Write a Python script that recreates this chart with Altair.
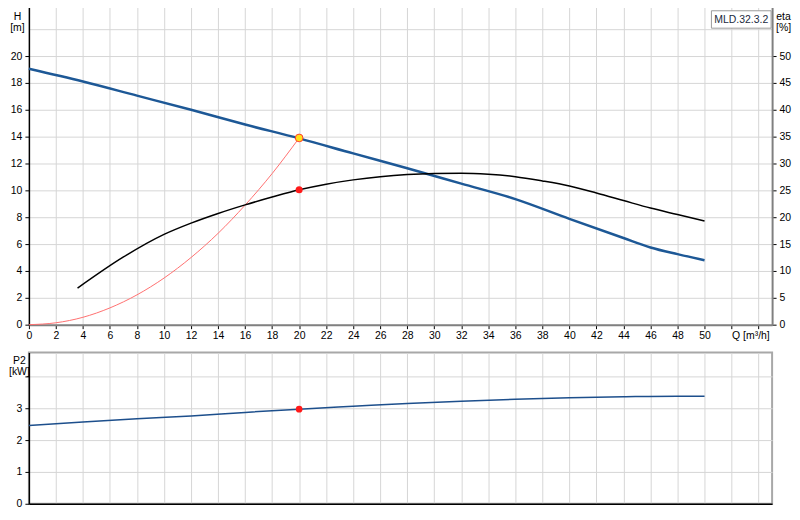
import altair as alt
import pandas as pd

# ---- data ----
q_head = [0, 4, 8, 12, 16, 20, 24, 28, 32, 36, 40, 44, 46, 48, 50]
head = [19.05, 18.1, 17.05, 16.0, 14.9, 13.87, 12.75, 11.65, 10.5, 9.35, 7.88, 6.45, 5.75, 5.25, 4.8]

q_sys = [0, 2, 4, 6, 8, 10, 12, 14, 16, 18, 20]
h_sys = [0, 0.14, 0.55, 1.25, 2.22, 3.47, 5.0, 6.8, 8.9, 11.25, 13.9]

q_eta = [3.6, 7, 10, 12, 14, 16, 18, 20, 22, 24, 26, 28, 30, 32, 34, 36, 38, 40, 42, 44, 46, 48, 50]
eta = [6.8, 12.6, 16.8, 18.9, 20.7, 22.3, 23.75, 25.1, 26.15, 26.95, 27.55, 27.95, 28.15, 28.2, 28.0,
       27.55, 26.75, 25.8, 24.5, 23.1, 21.7, 20.5, 19.3]

q_p2 = [0, 4, 8, 12, 16, 20, 24, 28, 32, 36, 40, 44, 48, 50]
p2 = [2.46, 2.57, 2.67, 2.76, 2.87, 2.97, 3.06, 3.15, 3.22, 3.28, 3.33, 3.36, 3.38, 3.38]

duty_q = [20]
duty_h = [13.9]
duty_eta = [25.1]
duty_p2 = [2.97]

pump_name = "MLD.32.3.2"
x_ticks = list(range(0, 55, 2))
h_ticks = list(range(0, 25, 2))
eta_ticks = list(range(0, 51, 5))
p2_ticks = [0, 1, 2, 3, 4]

FONT = "Liberation Sans"
FS = 10.5

df_head = pd.DataFrame({"Q": q_head, "H": head})
df_sys = pd.DataFrame({"Q": q_sys, "H": h_sys})
df_eta = pd.DataFrame({"Q": q_eta, "eta": eta})
df_p2 = pd.DataFrame({"Q": q_p2, "P2": p2})
df_duty = pd.DataFrame({"Q": duty_q, "H": duty_h, "eta": duty_eta, "P2": duty_p2})
df_name = pd.DataFrame({"name": [pump_name]})

xscale = alt.Scale(domain=[0, 55], nice=False, zero=False)

x_axis_top = alt.Axis(
    values=x_ticks, title=None, grid=True, gridColor="#d6d6d6", gridWidth=1,
    domainColor="#808080", domainWidth=2, tickColor="#000", tickSize=4,
    labelExpr="datum.value == 52 ? 'Q [m³/h]' : (datum.value > 50 ? '' : datum.label)",
    labelAlign={"condition": {"test": "datum.value == 52", "value": "left"}, "value": "center"},
    labelPadding=2,
)
h_axis = alt.Axis(
    values=h_ticks, title=["H", "[m]"], titleAngle=0, titleX=-12, titleY=17,
    titleBaseline="alphabetic", titleAlign="center", titleLineHeight=11,
    grid=True, gridColor="#d6d6d6", gridWidth=1,
    domainColor="#000", domainWidth=1.5, tickColor="#000", tickSize=4,
    tickOpacity={"condition": {"test": "datum.value > 20", "value": 0}, "value": 1},
    labelExpr="datum.value > 20 ? '' : datum.label", labelPadding=3,
)
eta_axis = alt.Axis(
    values=eta_ticks, orient="right", title=["eta", "[%]"], titleAngle=0,
    titleX=11, titleY=17, titleBaseline="alphabetic", titleAlign="center", titleLineHeight=11,
    grid=False, domainColor="#808080", domainWidth=2, tickColor="#000", tickSize=4,
    labelPadding=3,
)

X = alt.X("Q:Q", scale=xscale, axis=x_axis_top)
hscale = alt.Scale(domain=[0, 24], nice=False, zero=False)
etascale = alt.Scale(domain=[0, 60], nice=False, zero=False)

head_line = alt.Chart(df_head).mark_line(color="#1d5896", strokeWidth=2.5, interpolate="monotone").encode(
    x=X, y=alt.Y("H:Q", scale=hscale, axis=h_axis))
sys_line = alt.Chart(df_sys).mark_line(color="#ff7070", strokeWidth=1, interpolate="monotone").encode(
    x=X, y=alt.Y("H:Q", scale=hscale, axis=h_axis))
duty_h_pt = alt.Chart(df_duty).mark_point(filled=True, size=60, fill="#ffe11a", stroke="#ff3b30", strokeWidth=1, opacity=1).encode(
    x=X, y=alt.Y("H:Q", scale=hscale, axis=h_axis))
name_box = alt.Chart(df_name).mark_rect(fill="#ffffff", stroke="#9a9a9a", strokeWidth=1).encode(
    x=alt.value(686), x2=alt.value(746), y=alt.value(8.5), y2=alt.value(26))
name_text = alt.Chart(df_name).mark_text(font=FONT, fontSize=FS, color="#1a2a40", baseline="middle", align="center").encode(
    text="name:N", x=alt.value(716), y=alt.value(17.5))

eta_line = alt.Chart(df_eta).mark_line(color="#000000", strokeWidth=1.5, interpolate="monotone").encode(
    x=X, y=alt.Y("eta:Q", scale=etascale, axis=eta_axis))
duty_eta_pt = alt.Chart(df_duty).mark_point(filled=True, size=50, color="#ff1a1a", opacity=1).encode(
    x=X, y=alt.Y("eta:Q", scale=etascale, axis=eta_axis))

top = alt.layer(
    alt.layer(head_line, sys_line, duty_h_pt, name_box, name_text),
    alt.layer(eta_line, duty_eta_pt),
).resolve_scale(y="independent").properties(
    width=747, height=324, view=alt.ViewBackground(stroke="transparent"))

x_axis_bot = alt.Axis(values=x_ticks, title=None, labels=False, ticks=False, grid=True,
                      gridColor="#d6d6d6", gridWidth=1, domainColor="#000", domainWidth=1.5)
p2_axis = alt.Axis(
    values=p2_ticks, title=["P2", "[kW]"], titleAngle=0, titleX=-10, titleY=11,
    titleBaseline="alphabetic", titleAlign="center", titleLineHeight=11,
    grid=True, gridColor="#d6d6d6", gridWidth=1,
    domainColor="#000", domainWidth=1.5, tickColor="#000", tickSize=4,
    labelExpr="datum.value > 3 ? '' : datum.label", labelPadding=3,
)
p2scale = alt.Scale(domain=[0, 4.75], nice=False, zero=False)
XB = alt.X("Q:Q", scale=xscale, axis=x_axis_bot)

p2_line = alt.Chart(df_p2).mark_line(color="#1d4f8c", strokeWidth=1.5, interpolate="monotone").encode(
    x=XB, y=alt.Y("P2:Q", scale=p2scale, axis=p2_axis))
duty_p2_pt = alt.Chart(df_duty).mark_point(filled=True, size=45, color="#ff1a1a", opacity=1).encode(
    x=XB, y=alt.Y("P2:Q", scale=p2scale, axis=p2_axis))

bottom = alt.layer(p2_line, duty_p2_pt).properties(
    width=747, height=152, view=alt.ViewBackground(stroke="#a8a8a8", strokeWidth=2))

chart = alt.vconcat(top, bottom, spacing=10).properties(
    padding={"left": -1, "top": -8, "right": 0, "bottom": 0}
).configure(font=FONT).configure_axis(
    labelFont=FONT, labelFontSize=FS, labelColor="#000",
    titleFont=FONT, titleFontSize=FS, titleFontWeight="normal", titleColor="#000",
)

chart.save("out.html", embed_options={"renderer": "svg", "actions": False})
